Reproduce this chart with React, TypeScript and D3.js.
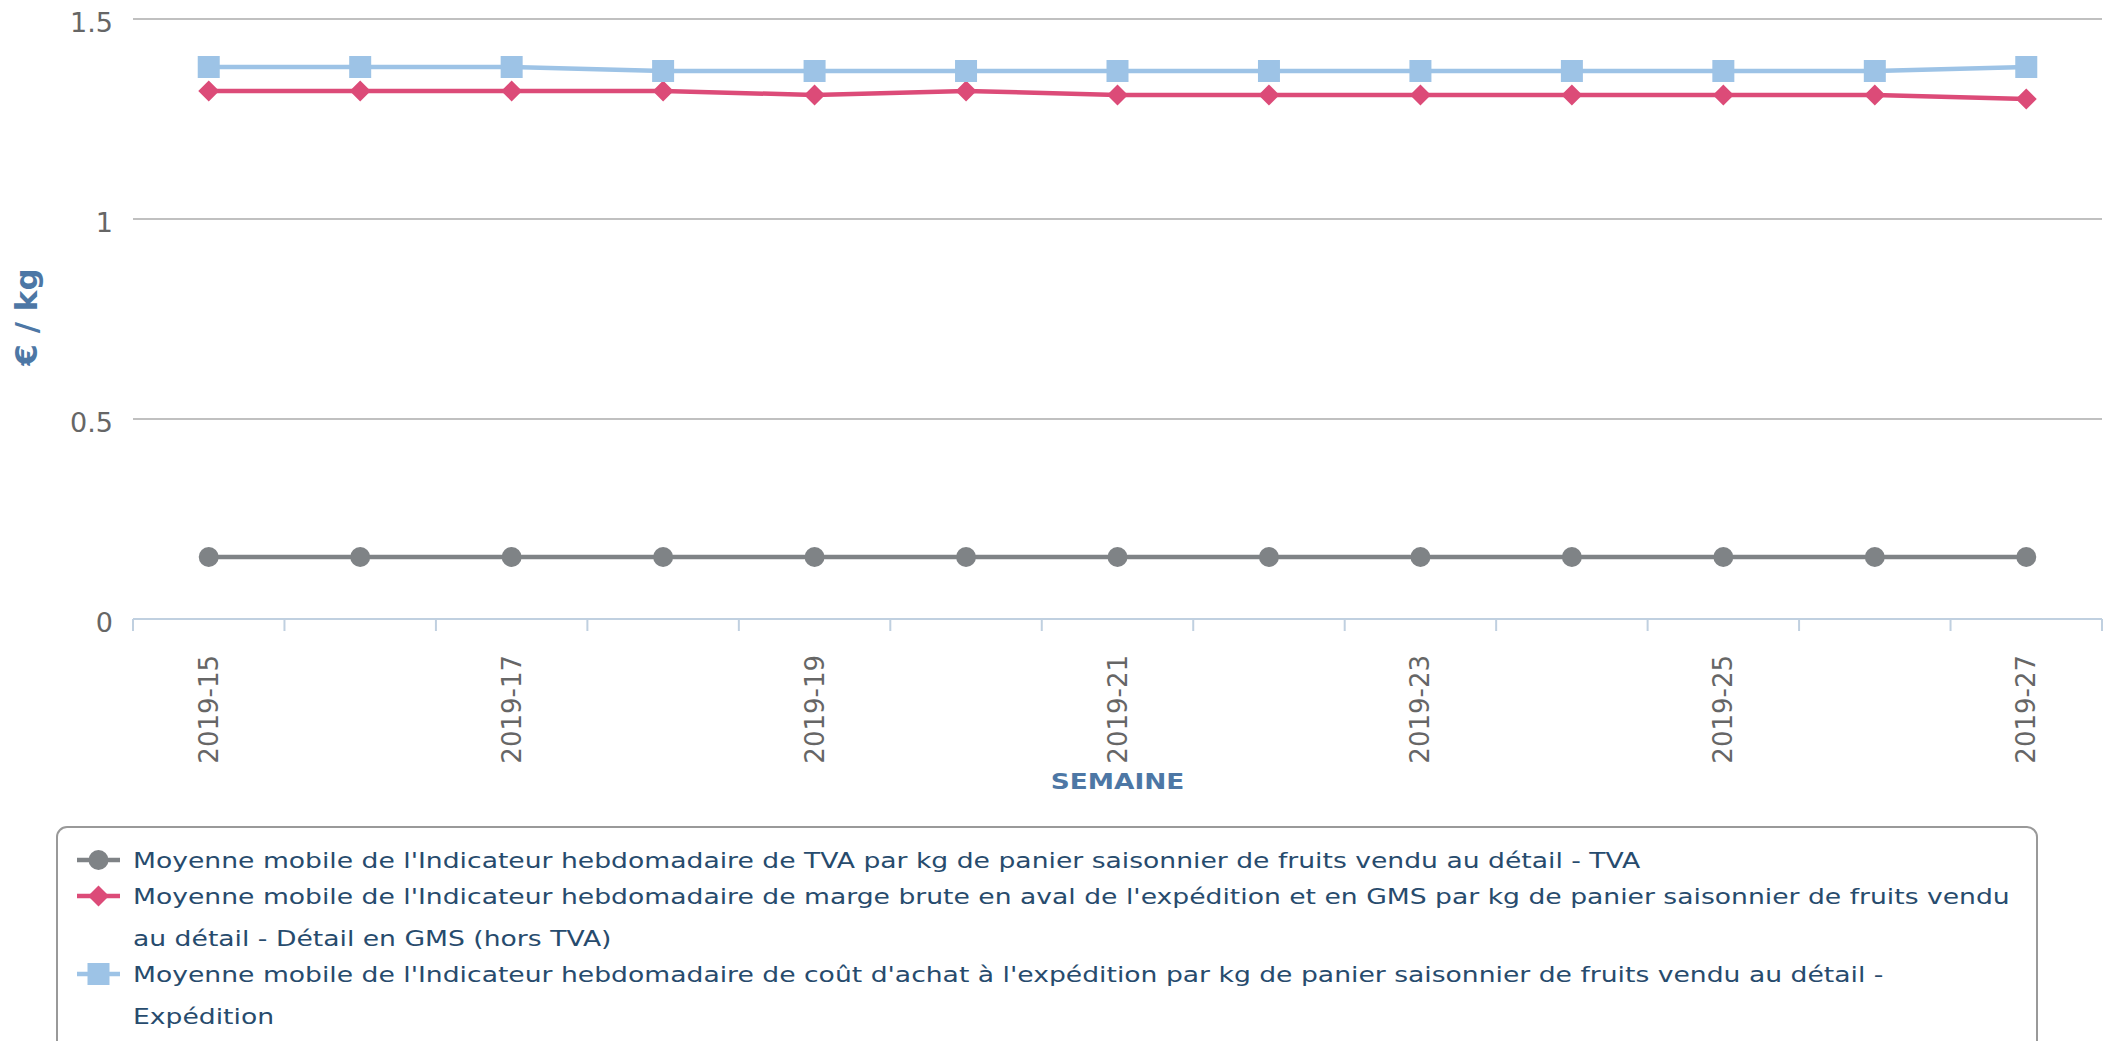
import React from "react";
import * as d3 from "d3";

const weeks = ["2019-15","2019-16","2019-17","2019-18","2019-19","2019-20","2019-21","2019-22","2019-23","2019-24","2019-25","2019-26","2019-27"];
const tvaValues = [0.155,0.155,0.155,0.155,0.155,0.155,0.155,0.155,0.155,0.155,0.155,0.155,0.155];
const margeValues = [1.32,1.32,1.32,1.32,1.31,1.32,1.31,1.31,1.31,1.31,1.31,1.31,1.30];
const expedValues = [1.38,1.38,1.38,1.37,1.37,1.37,1.37,1.37,1.37,1.37,1.37,1.37,1.38];
const yTicks = [0, 0.5, 1, 1.5];
const yTickLabels = ["0", "0.5", "1", "1.5"];
const legendLines = [
  ["Moyenne mobile de l'Indicateur hebdomadaire de TVA par kg de panier saisonnier de fruits vendu au détail - TVA"],
  ["Moyenne mobile de l'Indicateur hebdomadaire de marge brute en aval de l'expédition et en GMS par kg de panier saisonnier de fruits vendu", "au détail - Détail en GMS (hors TVA)"],
  ["Moyenne mobile de l'Indicateur hebdomadaire de coût d'achat à l'expédition par kg de panier saisonnier de fruits vendu au détail -", "Expédition"],
];

const W = 2114, H = 1041;
const left = 133, right = 2102, top = 19, bottom = 619;
const FONT = "'DejaVu Sans', sans-serif";

const colors = { tva: "#7f8386", marge: "#dc4b78", exped: "#9dc3e6" };

export default function App() {
  const x = d3.scaleBand<string>().domain(weeks).range([left, right]).padding(0);
  const y = d3.scaleLinear().domain([0, 1.5]).range([bottom, top]);
  const cx = (w: string) => (x(w) as number) + x.bandwidth() / 2;
  const line = d3.line<number>().x((_, i) => cx(weeks[i])).y((v) => y(v));
  const boundaries = weeks.map((w) => x(w) as number).concat([right]);

  const diamond = (px: number, py: number, r: number) =>
    `M${px},${py - r}L${px + r},${py}L${px},${py + r}L${px - r},${py}Z`;

  const series = [
    { key: "tva", values: tvaValues, color: colors.tva, marker: "circle" },
    { key: "marge", values: margeValues, color: colors.marge, marker: "diamond" },
    { key: "exped", values: expedValues, color: colors.exped, marker: "square" },
  ];

  const drawMarker = (m: string, px: number, py: number, color: string, k: string) => {
    if (m === "circle") return <circle key={k} cx={px} cy={py} r={10} fill={color} />;
    if (m === "diamond") return <path key={k} d={diamond(px, py, 10.5)} fill={color} />;
    return <rect key={k} x={px - 11} y={py - 11} width={22} height={22} fill={color} />;
  };

  const legendRowY = [860, 896, 974];
  const legendLineGap = 42;

  return (
    <svg width={W} height={H} style={{ position: "absolute", left: 0, top: 0, fontFamily: FONT }}>
      <rect x={0} y={0} width={W} height={H} fill="#ffffff" />
      {yTicks.filter((t) => t > 0).map((t) => (
        <line key={t} x1={left} x2={right} y1={y(t)} y2={y(t)} stroke="#c0c0c0" strokeWidth={2} />
      ))}
      {yTicks.map((t, i) => (
        <text key={t} x={113} y={y(t) + 3} textAnchor="end" dominantBaseline="central" fontSize={27} fill="#666666">
          {yTickLabels[i]}
        </text>
      ))}
      <line x1={left} x2={right} y1={bottom} y2={bottom} stroke="#c0d0e0" strokeWidth={2} />
      {boundaries.map((b, i) => (
        <line key={i} x1={b} x2={b} y1={bottom} y2={bottom + 12} stroke="#c0d0e0" strokeWidth={2} />
      ))}
      {weeks.map((w, i) =>
        i % 2 === 0 ? (
          <text key={w} transform={`translate(${cx(w)},655) rotate(-90)`} textAnchor="end" dominantBaseline="central" fontSize={26} fill="#666666">
            {w}
          </text>
        ) : null
      )}
      <text transform={`translate(${(left + right) / 2},781) scale(1.2,1)`} textAnchor="middle" dominantBaseline="central" fontSize={22} fontWeight="bold" fill="#4d77a5">
        SEMAINE
      </text>
      <text transform="translate(26,317) rotate(-90)" textAnchor="middle" dominantBaseline="central" fontSize={31} fontWeight="bold" fill="#4d77a5">
        € / kg
      </text>
      {series.map((s) => (
        <g key={s.key}>
          <path d={line(s.values) as string} fill="none" stroke={s.color} strokeWidth={4.5} strokeLinejoin="round" />
          {s.values.map((v, i) => drawMarker(s.marker, cx(weeks[i]), y(v), s.color, s.key + i))}
        </g>
      ))}
      <rect x={57} y={827} width={1980} height={240} rx={10} ry={10} fill="#ffffff" stroke="#999999" strokeWidth={2} />
      {series.map((s, i) => (
        <g key={s.key}>
          <line x1={77} x2={120} y1={legendRowY[i]} y2={legendRowY[i]} stroke={s.color} strokeWidth={4.5} />
          {drawMarker(s.marker, 98.5, legendRowY[i], s.color, "lg" + i)}
          {legendLines[i].map((t, j) => (
            <text key={j} transform={`translate(133,${legendRowY[i] + j * legendLineGap}) scale(1.21,1)`} dominantBaseline="central" fontSize={22} fill="#274b6d">
              {t}
            </text>
          ))}
        </g>
      ))}
    </svg>
  );
}
